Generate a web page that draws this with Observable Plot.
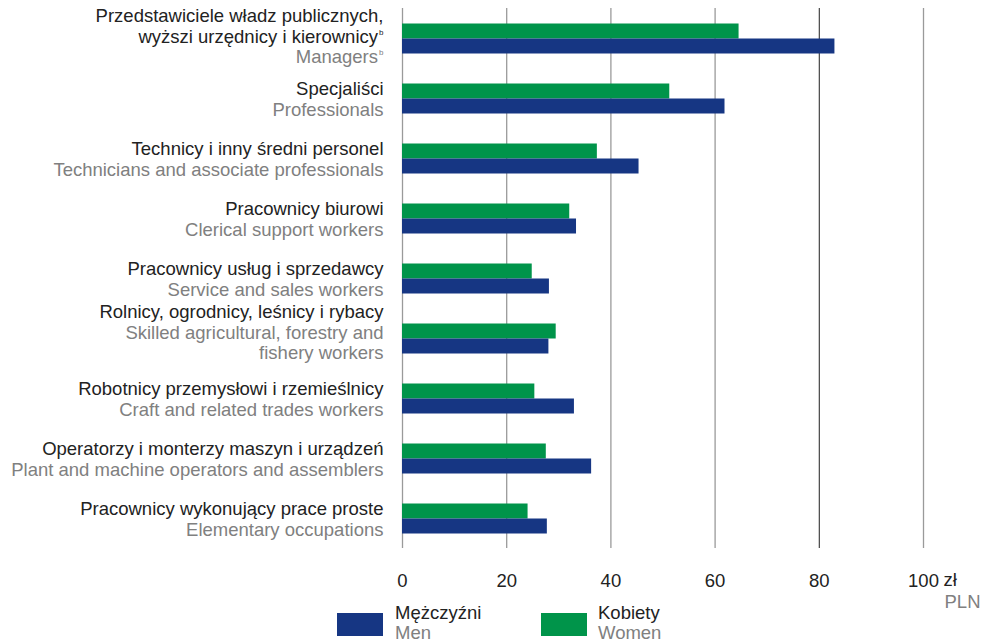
<!DOCTYPE html>
<html>
<head>
<meta charset="utf-8">
<script src="https://cdn.jsdelivr.net/npm/d3@7"></script>
<script src="https://cdn.jsdelivr.net/npm/@observablehq/plot@0.6"></script>
<style>
  html, body { margin: 0; padding: 0; background: #fff; }
  body { position: relative; width: 986px; height: 641px; overflow: hidden; font-family: "Liberation Sans", Arial, sans-serif; }
  #chart svg { display: block; }
  #legend { position: absolute; left: 0; top: 603px; width: 986px; height: 38px; }
  .sw { position: absolute; top: 10px; width: 46px; height: 23px; }
  .lt { position: absolute; top: 0px; font-size: 18.5px; line-height: 19.5px; color: #222; }
  .lt span { display: block; color: #808080; }
</style>
</head>
<body>
<div id="chart"></div>
<div id="legend">
  <div class="sw" style="left:337px;background:#163683"></div>
  <div class="lt" style="left:395px">Mężczyźni<span>Men</span></div>
  <div class="sw" style="left:541px;background:#00944A"></div>
  <div class="lt" style="left:598px">Kobiety<span>Women</span></div>
</div>
<script>
// Occupation labels (Polish, English)
const occupationsPL = [
  "Przedstawiciele władz publicznych,\nwyższi urzędnicy i kierownicy",
  "Specjaliści",
  "Technicy i inny średni personel",
  "Pracownicy biurowi",
  "Pracownicy usług i sprzedawcy",
  "Rolnicy, ogrodnicy, leśnicy i rybacy",
  "Robotnicy przemysłowi i rzemieślnicy",
  "Operatorzy i monterzy maszyn i urządzeń",
  "Pracownicy wykonujący prace proste"
];
const occupationsEN = [
  "Managers",
  "Professionals",
  "Technicians and associate professionals",
  "Clerical support workers",
  "Service and sales workers",
  "Skilled agricultural, forestry and\nfishery workers",
  "Craft and related trades workers",
  "Plant and machine operators and assemblers",
  "Elementary occupations"
];
// Footnote markers (superscripts) on the last line of each label
const footnotes = ["b", "", "", "", "", "", "", "", ""];
// Values (PLN)
const women = [64.6, 51.3, 37.4, 32.1, 24.9, 29.5, 25.4, 27.6, 24.1];
const men   = [83.0, 61.9, 45.4, 33.4, 28.2, 28.1, 33.0, 36.3, 27.8];
const series = ["Kobiety", "Mężczyźni"];
const xTicks = [0, 20, 40, 60, 80, 100];

const data = [];
occupationsPL.forEach((o, i) => {
  data.push({occupation: o, sex: "Kobiety", value: women[i]});
  data.push({occupation: o, sex: "Mężczyźni", value: men[i]});
});

// Layout of the label lines, one text element per line
const fs = 18.5;
const lhPx = 20.5;
const blockShift = {"1-1": 1, "2-1": -1.5, "1-2": -5.5};
const lines = [];
occupationsPL.forEach((pl, i) => {
  const plL = pl.split("\n"), enL = occupationsEN[i].split("\n");
  const n = plL.length + enL.length;
  const shift = blockShift[plL.length + "-" + enL.length];
  const all = plL.map((t, j) => ({t, lang: "pl", last: j === plL.length - 1}))
    .concat(enL.map((t, j) => ({t, lang: "en", last: j === enL.length - 1})));
  all.forEach((l, j) => {
    lines.push({
      occupation: pl, text: l.t, lang: l.lang,
      note: l.last ? footnotes[i] : "",
      dy: shift + (j - (n - 1) / 2) * lhPx
    });
  });
});
const groups = d3.groups(lines, d => `${d.dy}|${d.lang}|${d.note ? 1 : 0}`);
const labelMarks = [];
groups.forEach(([key, g]) => {
  const {dy, lang, note} = g[0];
  labelMarks.push(Plot.text(g, {fy: "occupation", text: "text", frameAnchor: "left", textAnchor: "end",
    lineAnchor: "middle", dx: note ? -24.5 : -19, dy, fill: lang === "pl" ? "#222" : "#808080", fontSize: fs}));
  if (note) {
    labelMarks.push(Plot.text(g, {fy: "occupation", text: "note", frameAnchor: "left", textAnchor: "end",
      lineAnchor: "middle", dx: -19, dy: dy - 5, fill: lang === "pl" ? "#222" : "#808080", fontSize: 8}));
  }
});
const last = occupationsPL[occupationsPL.length - 1];

const chart = Plot.plot({
  width: 986,
  height: 641,
  marginLeft: 402,
  marginRight: 63,
  marginTop: 7.5,
  marginBottom: 93.5,
  style: {fontFamily: "'Liberation Sans', Arial, sans-serif", fontSize: "18.5px", color: "#222", background: "#fff"},
  x: {domain: [0, 100], axis: null, label: null},
  y: {domain: series, paddingInner: 0, paddingOuter: 0.935, axis: null},
  fy: {domain: occupationsPL, padding: 0, axis: null},
  color: {domain: series, range: ["#00944A", "#163683"]},
  marks: [
    Plot.ruleX(xTicks.filter(d => d !== 80), {stroke: "#9a9a9a", strokeWidth: 1.3}),
    Plot.ruleX(xTicks.filter(d => d === 80), {stroke: "#333", strokeWidth: 1.1}),
    Plot.barX(data, {x: "value", y: "sex", fy: "occupation", fill: "sex"}),
    ...labelMarks,
    Plot.axisX(xTicks, {anchor: "bottom", label: null, tickSize: 0, tickPadding: 25, fontSize: fs, fill: "#222"}),
    Plot.text(["zł"], {fy: () => last, x: () => 100, frameAnchor: "bottom", textAnchor: "start",
      lineAnchor: "middle", dx: 20, dy: 32, fill: "#222", fontSize: fs}),
    Plot.text(["PLN"], {fy: () => last, x: () => 100, frameAnchor: "bottom", textAnchor: "end",
      lineAnchor: "middle", dx: 57, dy: 53.5, fill: "#808080", fontSize: fs})
  ]
});
document.getElementById("chart").appendChild(chart);
</script>
</body>
</html>
